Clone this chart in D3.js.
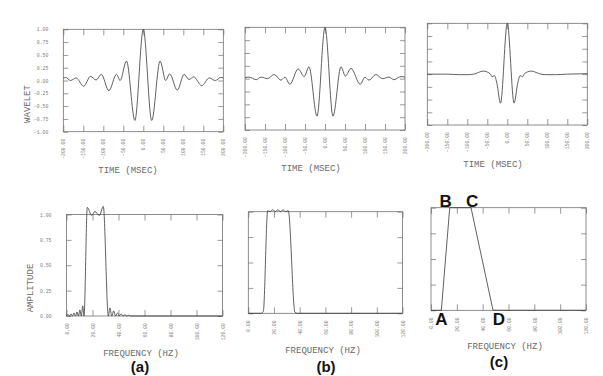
<!DOCTYPE html>
<html>
<head>
<meta charset="utf-8">
<script src="https://cdn.jsdelivr.net/npm/d3@7"></script>
<style>
  html, body { margin: 0; padding: 0; background: #fff; }
  svg { display: block; }
</style>
</head>
<body>
<svg id="chart" width="603" height="376"></svg>
<script>
// ---------------- DATA ----------------
const timeTicks = [-200, -150, -100, -50, 0, 50, 100, 150, 200];
const waveletTicks = [-1, -0.75, -0.5, -0.25, 0, 0.25, 0.5, 0.75, 1];
const freqTicks = [0, 20, 40, 60, 80, 100, 120];
const ampTicks = [0, 0.25, 0.5, 0.75, 1];

// wavelet (a): [time ms, amplitude]
const waveletA = [[-200,0.05],[-194,0.06],[-182,0.0],[-168,0.05],[-149,-0.11],[-132,0.08],[-118,0.01],
  [-105,0.12],[-86,-0.2],[-67,0.12],[-58,0.0],[-42,0.38],[-21,-0.78],[0,1.0],[21,-0.78],[42,0.38],
  [56,0.0],[66,0.13],[85,-0.19],[102,0.12],[114,0.02],[126,0.07],[146,-0.1],[165,0.05],[180,0.0],
  [194,0.06],[200,0.05]];
// wavelet (b)
const waveletB = [[-200,0.02],[-190,0.03],[-172,-0.02],[-160,0.03],[-144,0.0],[-127,0.08],[-110,-0.03],
  [-100,0.03],[-88,-0.11],[-67,0.19],[-52,0.04],[-40,0.23],[-20,-0.73],[0,1.0],[20,-0.73],[40,0.23],
  [51,0.05],[65,0.2],[88,-0.11],[100,0.03],[110,-0.03],[127,0.08],[144,0.0],[160,0.03],[172,-0.02],
  [190,0.04],[200,0.03]];
// wavelet (c)
const waveletC = [[-200,0.0],[-150,0.0],[-120,-0.01],[-100,-0.01],[-84,0.0],[-60,0.06],[-43,0.01],
  [-38,-0.05],[-32,-0.03],[-26,-0.18],[-17,-0.57],[0,1.0],[17,-0.57],[26,-0.18],[32,-0.03],[38,-0.05],
  [43,0.01],[60,0.06],[84,0.0],[100,-0.01],[120,-0.01],[150,0.0],[200,0.01]];

// amplitude spectra: [frequency Hz, amplitude]
const spectrumA = [[0,0.0],[1.2,0.015],[2.3,0.0],[3.5,0.02],[4.6,0.0],[5.8,0.03],[6.9,0.0],[8.1,0.04],
  [9.2,0.0],[10.3,0.06],[11.4,0.0],[12.5,0.1],[13.5,0.0],[16,1.07],[19.4,0.99],[21.9,1.03],[25.3,0.99],
  [28.3,1.08],[32.2,0.0],[33.4,0.08],[34.8,0.0],[36.3,0.05],[37.7,0.0],[39.2,0.03],[40.6,0.0],
  [42.1,0.02],[43.5,0.0],[45,0.012],[46.4,0.0],[47.9,0.008],[49.3,0.0],[120,0.0]];
const spectrumB = [[0,0],[10,0],[11.7,0.02],[15.1,1.01],[17,1.0],[19,1.02],[21,1.0],[23,1.02],[25,1.0],
  [27,1.02],[29,1.0],[31.1,1.01],[36.3,0.01],[38,0.0],[120,0]];
// trapezoid (c): corner frequencies A, B, C, D
const cornerLabels = ["A", "B", "C", "D"];
const cornerFreqs = [8, 14.5, 31, 48];
const cornerAmps = [0, 1, 1, 0];
const spectrumC = [[0,0]].concat(cornerFreqs.map((f, i) => [f, cornerAmps[i]]), [[120,0]]);

const panelCaptions = ["(a)", "(b)", "(c)"];

// ---------------- LAYOUT ----------------
const svg = d3.select("#chart");
const MONO = "'Liberation Mono', 'DejaVu Sans Mono', monospace";
const tickColor = "#808080";
const frameColor = "#707070";
const curveColor = "#383838";
const titleColor = "#6a6a6a";

const topBoxes = [
  {x0: 63.3, x1: 223.3, y0: 29.3, y1: 131.7},
  {x0: 245,  x1: 405,   y0: 27.3, y1: 130},
  {x0: 427.3,x1: 587.3, y0: 23.3, y1: 125}
];
const botBoxes = [
  {x0: 66.5, x1: 222.5, y0: 214.5, y1: 316},
  {x0: 248.3,x1: 402.5, y0: 211.7, y1: 313.3},
  {x0: 431,  x1: 586,   y0: 207.7, y1: 310.3}
];

function drawPanel(box, xDomain, yDomain, xTicks, yTicks, data, showYLabels, xTitle, yTitle, titleX, titleY, curve) {
  const x = d3.scaleLinear().domain(xDomain).range([box.x0, box.x1]);
  const y = d3.scaleLinear().domain(yDomain).range([box.y1, box.y0]);
  const g = svg.append("g");

  const bottom = g.append("g").attr("transform", `translate(0,${box.y1})`)
    .call(d3.axisBottom(x).tickValues(xTicks).tickSize(-6).tickSizeOuter(0).tickFormat(d3.format(".2f")));
  bottom.selectAll("text")
    .attr("transform", "rotate(-90)")
    .attr("x", -7).attr("y", 0).attr("dy", "0.35em")
    .attr("text-anchor", "end")
    .attr("font-family", MONO).attr("font-size", 4.8).attr("fill", tickColor);

  g.append("g").attr("transform", `translate(0,${box.y0})`)
    .call(d3.axisTop(x).tickValues(xTicks).tickSize(-6).tickSizeOuter(0).tickFormat(""));

  const left = g.append("g").attr("transform", `translate(${box.x0},0)`)
    .call(d3.axisLeft(y).tickValues(yTicks).tickSize(-5).tickSizeOuter(0).tickPadding(15)
      .tickFormat(showYLabels ? d3.format(".2f") : ""));
  left.selectAll("text").attr("font-family", MONO).attr("font-size", 4.8).attr("fill", tickColor);

  g.append("g").attr("transform", `translate(${box.x1},0)`)
    .call(d3.axisRight(y).tickValues(yTicks).tickSize(-5).tickSizeOuter(0).tickFormat(""));

  g.selectAll(".domain").remove();
  g.selectAll(".tick line").attr("stroke", tickColor).attr("stroke-width", 0.8);

  g.append("rect").attr("x", box.x0).attr("y", box.y0)
    .attr("width", box.x1 - box.x0).attr("height", box.y1 - box.y0)
    .attr("fill", "none").attr("stroke", frameColor).attr("stroke-width", 0.8);

  const line = d3.line().x(d => x(d[0])).y(d => y(d[1])).curve(curve);
  g.append("path").datum(data).attr("d", line)
    .attr("fill", "none").attr("stroke", curveColor).attr("stroke-width", 0.8)
    .attr("stroke-linejoin", "round");

  g.append("text").attr("x", titleX).attr("y", titleY)
    .attr("text-anchor", "middle").attr("font-family", MONO).attr("font-size", 9)
    .attr("fill", titleColor).text(xTitle);

  if (yTitle) {
    g.append("text")
      .attr("transform", `translate(${yTitle.x},${yTitle.y}) rotate(-90)`)
      .attr("text-anchor", "middle").attr("dy", "0.35em")
      .attr("font-family", MONO).attr("font-size", 9).attr("fill", titleColor)
      .text(yTitle.text);
  }
  return {x, y};
}

const wavelets = [waveletA, waveletB, waveletC];
const spectra = [spectrumA, spectrumB, spectrumC];
const timeTitleX = [128, 311, 493];
const timeTitleY = [173, 171, 167];
const freqTitleX = [141, 323, 505];
const freqTitleY = [356, 353, 349];

wavelets.forEach((w, i) => {
  drawPanel(topBoxes[i], [-200, 200], [-1, 1], timeTicks, waveletTicks, w, i === 0,
    "TIME (MSEC)", i === 0 ? {x: 27, y: 104, text: "WAVELET"} : null,
    timeTitleX[i], timeTitleY[i], d3.curveMonotoneX);
});

let scalesC;
spectra.forEach((s, i) => {
  const sc = drawPanel(botBoxes[i], [0, 120], [0, 1], freqTicks, ampTicks, s, i === 0,
    "FREQUENCY (HZ)", i === 0 ? {x: 29.5, y: 288, text: "AMPLITUDE"} : null,
    freqTitleX[i], freqTitleY[i], i === 2 ? d3.curveLinear : d3.curveMonotoneX);
  if (i === 2) scalesC = sc;
});

// corner letters on (c)
const letterDx = [0, -4, 1, 6];
const letterDy = [15, -0.5, -0.5, 15];
svg.append("g").selectAll("text").data(cornerLabels).join("text")
  .attr("x", (d, i) => scalesC.x(cornerFreqs[i]) + letterDx[i])
  .attr("y", (d, i) => scalesC.y(cornerAmps[i]) + letterDy[i])
  .attr("text-anchor", "middle")
  .attr("font-family", "'Liberation Sans', Arial, sans-serif")
  .attr("font-weight", "bold").attr("font-size", 17).attr("fill", "#111")
  .text(d => d);

// panel captions
const captionX = [140, 326, 499];
const captionY = [372, 372, 367];
svg.append("g").selectAll("text").data(panelCaptions).join("text")
  .attr("x", (d, i) => captionX[i]).attr("y", (d, i) => captionY[i])
  .attr("text-anchor", "middle")
  .attr("font-family", "'Liberation Sans', Arial, sans-serif")
  .attr("font-weight", "bold").attr("font-size", 15).attr("fill", "#111")
  .text(d => d);
</script>
</body>
</html>
